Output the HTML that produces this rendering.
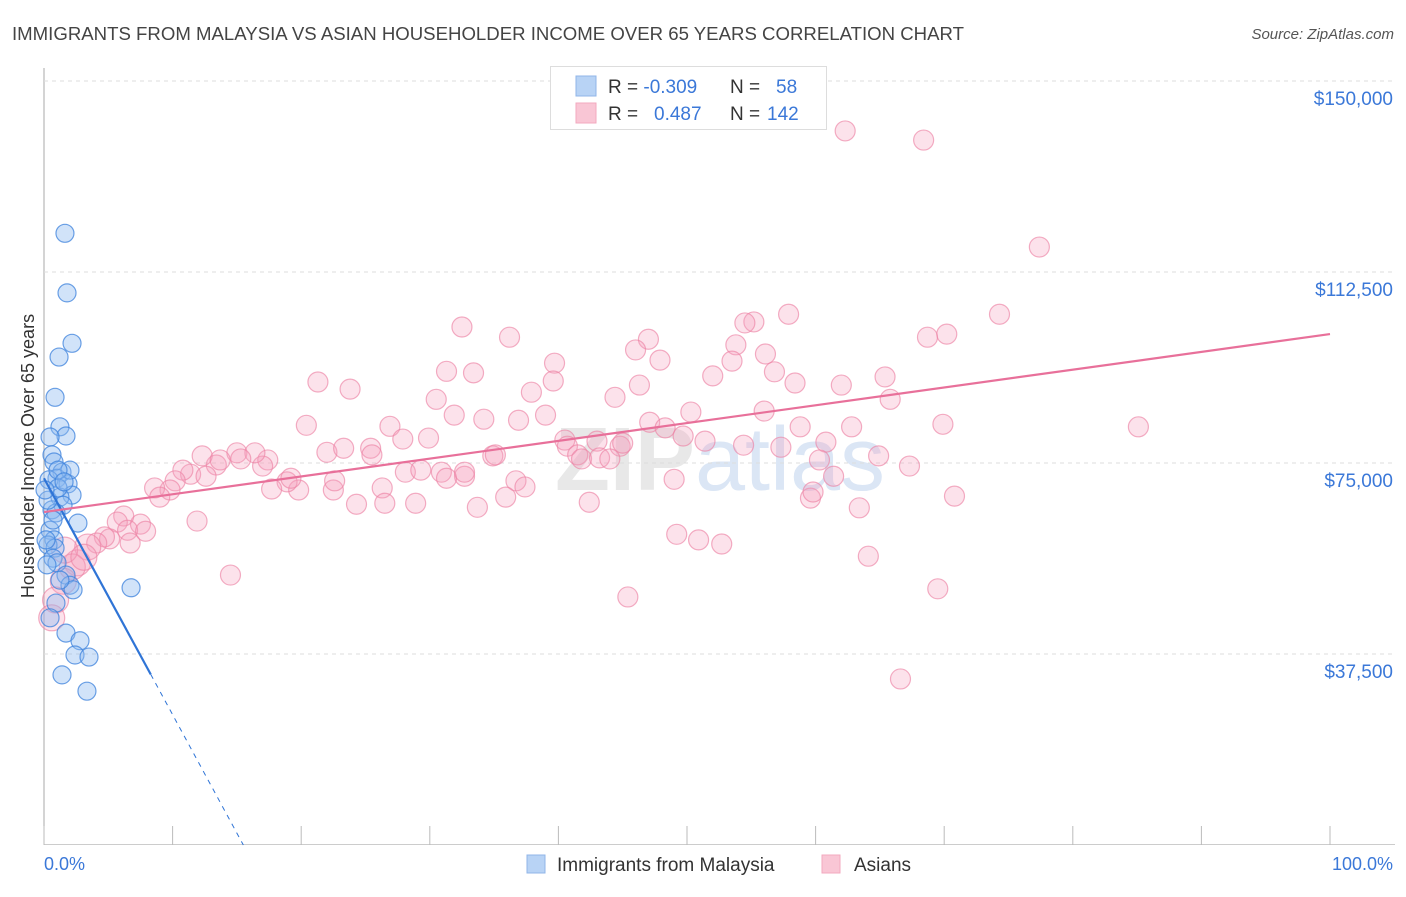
<!DOCTYPE html>
<html><head><meta charset="utf-8"><style>
body{margin:0;background:#fff;font-family:"Liberation Sans",sans-serif}
svg text{font-family:"Liberation Sans",sans-serif}
</style></head><body>
<svg id="c" width="1406" height="892" xmlns="http://www.w3.org/2000/svg">
<text x="12" y="40" font-size="18" fill="#444" textLength="952" lengthAdjust="spacingAndGlyphs">IMMIGRANTS FROM MALAYSIA VS ASIAN HOUSEHOLDER INCOME OVER 65 YEARS CORRELATION CHART</text>
<text x="1394" y="39" font-size="15" fill="#555" font-style="italic" text-anchor="end">Source: ZipAtlas.com</text>
<text x="720" y="490" font-size="90" fill="#e8e8e8" text-anchor="middle" font-weight="bold">ZIP<tspan fill="#dbe6f5" font-weight="normal">atlas</tspan></text>
<g id="grid"></g><g id="pts"></g><g id="lines"></g>
<text transform="translate(34,456) rotate(-90)" font-size="18" fill="#333" text-anchor="middle">Householder Income Over 65 years</text>
<text x="44" y="870" font-size="18" fill="#3b78d8">0.0%</text>
<text x="1393" y="870" font-size="18" fill="#3b78d8" text-anchor="end">100.0%</text>
<g>
<rect x="550.5" y="66.5" width="276" height="63" fill="#fff" stroke="#ddd"/>
<rect x="576" y="76" width="20" height="20" fill="#b8d3f5" stroke="#90b6e8"/>
<rect x="576" y="103" width="20" height="20" fill="#f9c6d5" stroke="#f3a9bf"/>
<text x="608" y="93" font-size="19" fill="#333">R = <tspan fill="#3b78d8">-0.309</tspan><tspan x="730">N = </tspan><tspan x="776" fill="#3b78d8">58</tspan></text>
<text x="608" y="120" font-size="19" fill="#333">R = <tspan x="654" fill="#3b78d8">0.487</tspan><tspan x="730">N = </tspan><tspan x="767" fill="#3b78d8">142</tspan></text>
</g>
<g>
<rect x="527" y="855" width="18" height="18" fill="#b8d3f5" stroke="#90b6e8"/>
<text x="557" y="871" font-size="19" fill="#333">Immigrants from Malaysia</text>
<rect x="822" y="855" width="18" height="18" fill="#f9c6d5" stroke="#f3a9bf"/>
<text x="854" y="871" font-size="19" fill="#333">Asians</text>
</g>
</svg>
<script>
const yTicks=[37500,75000,112500,150000];
const yTickLabels=["$37,500","$75,000","$112,500","$150,000"];
const blueX=[1.63,1.79,2.18,1.17,0.86,1.24,1.71,0.47,0.62,0.78,1.40,1.01,0.39,1.87,2.18,1.24,1.48,0.62,0.93,2.64,0.47,0.78,0.31,0.86,0.70,1.01,1.71,2.02,2.26,0.93,1.71,2.80,2.41,3.50,1.40,3.34,6.77,0.47,1.24,0.23,0.31,1.09,2.02,0.08,1.09,1.56,0.16,0.70];
const blueY=[120.1,108.4,98.5,95.8,87.9,82.1,80.3,80.1,76.6,75.2,73.2,72.0,71.7,70.9,68.7,68.3,66.7,65.8,65.2,63.2,61.8,59.9,58.9,58.3,56.3,55.4,53.0,51.0,50.1,47.5,41.6,40.1,37.3,36.9,33.4,30.2,50.5,44.6,52.0,55.0,67.7,70.1,73.6,69.7,73.6,71.3,59.9,63.8];
const pinkX=[62.3,68.4,77.4,74.3,70.2,68.7,57.9,55.2,54.5,53.8,56.1,53.5,52.0,56.8,58.4,62.0,65.4,65.8,56.0,50.3,47.9,47.0,46.0,46.3,44.4,39.7,39.6,37.9,36.2,32.5,31.3,33.4,30.5,31.9,34.2,39.0,36.9,26.9,23.8,21.3,20.4,22.0,23.3,25.4,25.5,27.9,29.9,28.1,29.3,30.9,32.7,34.9,35.1,36.7,37.4,35.9,33.7,31.3,32.7,26.3,26.5,24.3,22.5,22.6,19.8,18.9,19.2,17.4,17.0,15.0,16.4,15.3,13.4,12.3,11.4,10.8,10.2,9.8,8.6,9.0,12.6,13.7,17.7,28.9,40.5,40.7,41.5,41.8,43.0,44.8,43.2,44.0,45.0,47.1,48.3,49.7,51.4,54.4,57.3,58.8,60.8,62.8,64.9,67.3,60.3,61.4,59.6,59.8,63.4,70.8,69.9,85.1,49.0,42.4,50.9,52.7,49.2,45.4,64.1,69.5,66.6,14.5,11.9,7.5,6.2,5.7,6.5,5.1,4.7,4.1,6.7,7.9,3.4,2.6,2.2,1.5,0.9,0.6,1.6,3.1];
const pinkY=[140.2,138.4,117.4,104.2,100.3,99.7,104.2,102.7,102.5,98.2,96.4,95.0,92.1,92.9,90.7,90.3,91.9,87.5,85.2,85.0,95.2,99.3,97.2,90.3,87.9,94.6,91.1,88.9,99.7,101.7,93.0,92.7,87.5,84.4,83.6,84.4,83.4,82.2,89.5,90.9,82.4,77.1,77.9,77.9,76.6,79.7,79.9,73.2,73.6,73.2,72.4,76.4,76.6,71.5,70.3,68.3,66.3,72.0,73.2,70.1,67.1,66.9,69.7,71.5,69.7,71.3,72.0,75.6,74.4,77.0,77.0,75.8,74.6,76.4,72.8,73.6,71.5,69.7,70.1,68.3,72.4,75.6,69.9,67.1,79.5,78.3,76.6,75.8,79.3,78.3,76.0,75.8,78.9,83.0,81.9,80.3,79.3,78.5,78.1,82.1,79.1,82.1,76.4,74.4,75.6,72.4,68.1,69.3,66.2,68.5,82.6,82.1,71.8,67.3,59.9,59.1,61.0,48.7,56.7,50.3,32.6,53.0,63.6,63.0,64.6,63.4,61.8,60.1,60.5,59.3,59.3,61.6,58.5,55.4,54.6,51.8,48.1,44.6,57.9,56.5];
const blueTrend=[[0,72.0],[8.3,33.5],[15.5,0]];
const pinkTrend=[[0,65.37],[100,100.31]];
const NS='http://www.w3.org/2000/svg';
const X=p=>44+p*12.86, Y=v=>845-v/37.5*191;
function mk(t,a,p){const e=document.createElementNS(NS,t);for(const k in a)e.setAttribute(k,a[k]);p.appendChild(e);return e;}
const grid=document.getElementById('grid'),pts=document.getElementById('pts'),lines=document.getElementById('lines');
let ax=mk('line',{x1:44,y1:68,x2:44,y2:845,stroke:'#aaa'},grid);


let bx=mk('line',{x1:44,y1:844.5,x2:1395,y2:844.5,stroke:'#ccc'},grid);


for(let i=0;i<=10;i++){const t=mk('line',{x1:X(i*10),x2:X(i*10),y1:826,y2:845,stroke:'#bbb'},grid);

}
yTicks.forEach((v,i)=>{const g=mk('line',{x1:44,x2:1395,y1:Y(v/1000),y2:Y(v/1000),stroke:'#ddd','stroke-dasharray':'4,4'},grid);


const t=mk('text',{x:1393,y:Y(v/1000)+24,'font-size':19,fill:'#3b78d8','text-anchor':'end'},grid);t.textContent=yTickLabels[i];

});
pinkX.forEach((x,i)=>{const c=mk('circle',{cx:X(x),cy:Y(pinkY[i]),r:x<4?13:10,fill:'rgba(244,160,188,0.3)',stroke:'rgba(236,130,165,0.65)','stroke-width':1.2},pts);

});
blueX.forEach((x,i)=>{const c=mk('circle',{cx:X(x),cy:Y(blueY[i]),r:9,fill:'rgba(140,185,240,0.4)',stroke:'rgba(60,130,220,0.75)','stroke-width':1.2},pts);

});
let l1=mk('line',{x1:X(blueTrend[0][0]),y1:Y(blueTrend[0][1]),x2:X(blueTrend[1][0]),y2:Y(blueTrend[1][1]),stroke:'#2f74d6','stroke-width':2.2},lines);


let l2=mk('line',{x1:X(blueTrend[1][0]),y1:Y(blueTrend[1][1]),x2:X(blueTrend[2][0]),y2:Y(blueTrend[2][1]),stroke:'#2f74d6','stroke-width':1,'stroke-dasharray':'5,5'},lines);


let l3=mk('line',{x1:X(pinkTrend[0][0]),y1:Y(pinkTrend[0][1]),x2:X(pinkTrend[1][0]),y2:Y(pinkTrend[1][1]),stroke:'#e8709a','stroke-width':2.2},lines);


</script>
</body></html>
